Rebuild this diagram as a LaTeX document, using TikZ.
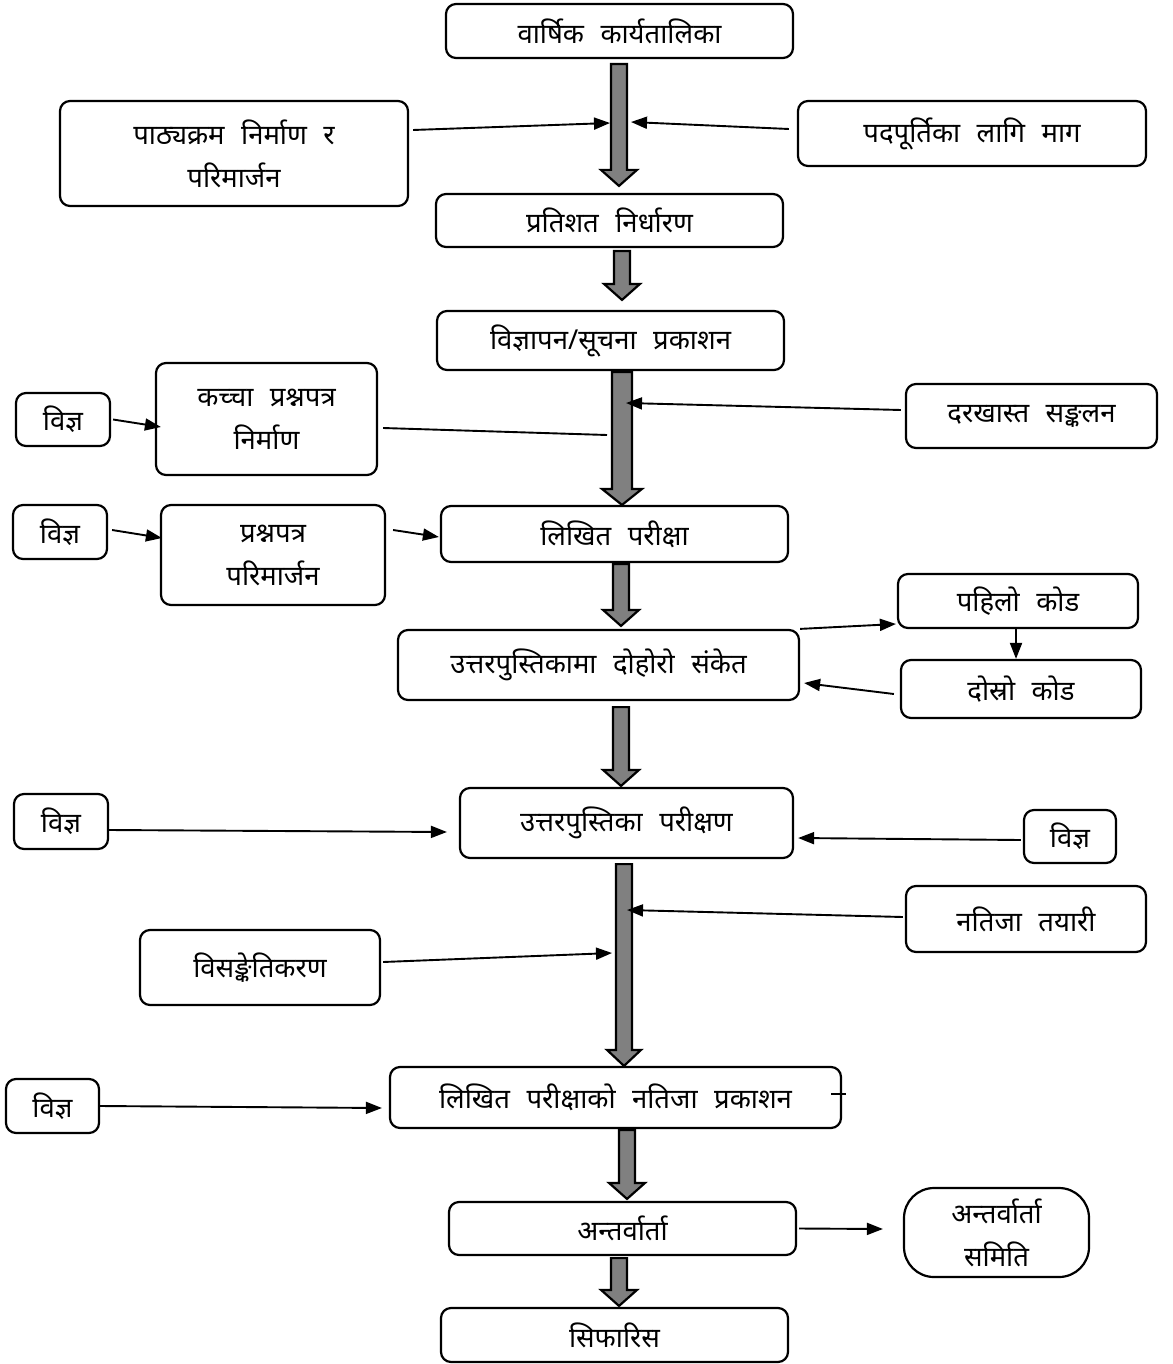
\documentclass[tikz,border=0pt]{standalone}
\usepackage{fontspec}
\newfontfamily\dev[Script=Devanagari,WordSpace=2.3]{Noto Sans}
\usetikzlibrary{arrows.meta,calc}
\definecolor{arrgray}{HTML}{808080}
\tikzset{
  box/.style={draw, line width=2.2pt, rounded corners=10pt, align=center, inner sep=0pt,
    font=\dev\fontsize{27.5}{43}\selectfont},
  thinarr/.style={line width=1.9pt, -{Triangle[length=16pt,width=12pt]}},
  thinline/.style={line width=1.9pt},
  blockarrow/.style={fill=arrgray, draw=black, line width=2.2pt, line join=miter},
}
% #1 from node, #2 to node, #3 x, #4 gap below source, #5 gap above target, #6 shaft half width, #7 head half width
\newcommand\blockarr[7]{%
  \filldraw[blockarrow] let \p1=(#1.south), \p2=(#2.north) in
    (#3-#6,\y1-#4) -- (#3+#6,\y1-#4) -- (#3+#6,\y2+#5+16) -- (#3+#7,\y2+#5+16)
    -- (#3,\y2+#5) -- (#3-#7,\y2+#5+16) -- (#3-#6,\y2+#5+16) -- cycle;}
\begin{document}
\begin{tikzpicture}[x=1pt,y=-1pt]
\useasboundingbox (0,0) rectangle (1172,1364);
% nodes
\node[box, minimum width=347pt, minimum height=54pt] (n1) at (619.5,31) {वार्षिक कार्यतालिका};
\node[box, minimum width=348pt, minimum height=105pt] (n2) at (234,153.5) {पाठ्यक्रम निर्माण र\\परिमार्जन};
\node[box, minimum width=348pt, minimum height=65pt] (n3) at (972,133.5) {पदपूर्तिका लागि माग};
\node[box, minimum width=347pt, minimum height=53pt] (n4) at (609.5,220.5) {प्रतिशत निर्धारण};
\node[box, minimum width=347pt, minimum height=59pt] (n5) at (610.5,340.5) {विज्ञापन/सूचना प्रकाशन};
\node[box, minimum width=221pt, minimum height=112pt] (n6) at (266.5,419) {कच्चा प्रश्नपत्र\\निर्माण};
\node[box, minimum width=94pt, minimum height=53pt] (n7) at (63,419.5) {विज्ञ};
\node[box, minimum width=251pt, minimum height=64pt] (n8) at (1031.5,416) {दरखास्त सङ्कलन};
\node[box, minimum width=94pt, minimum height=54pt] (n9) at (60,532) {विज्ञ};
\node[box, minimum width=224pt, minimum height=100pt] (n10) at (273,555) {प्रश्नपत्र\\परिमार्जन};
\node[box, minimum width=347pt, minimum height=56pt] (n11) at (614.5,534) {लिखित परीक्षा};
\node[box, minimum width=240pt, minimum height=54pt] (n12) at (1018,601) {पहिलो कोड};
\node[box, minimum width=401pt, minimum height=70pt] (n13) at (598.5,665) {उत्तरपुस्तिकामा दोहोरो संकेत};
\node[box, minimum width=240pt, minimum height=58pt] (n14) at (1021,689) {दोस्रो कोड};
\node[box, minimum width=94pt, minimum height=55pt] (n15) at (61,821.5) {विज्ञ};
\node[box, minimum width=333pt, minimum height=70pt] (n16) at (626.5,823) {उत्तरपुस्तिका परीक्षण};
\node[box, minimum width=92pt, minimum height=53pt] (n17) at (1070,836.5) {विज्ञ};
\node[box, minimum width=240pt, minimum height=66pt] (n18) at (1026,919) {नतिजा तयारी};
\node[box, minimum width=240pt, minimum height=75pt] (n19) at (260,967.5) {विसङ्केतिकरण};
\node[box, minimum width=93pt, minimum height=54pt] (n20) at (52.5,1106) {विज्ञ};
\node[box, minimum width=451pt, minimum height=61pt] (n21) at (615.5,1097.5) {लिखित परीक्षाको नतिजा प्रकाशन};
\node[box, minimum width=347pt, minimum height=53pt] (n22) at (622.5,1228.5) {अन्तर्वार्ता};
\node[box, rounded corners=30pt, minimum width=185pt, minimum height=89pt] (n23) at (996.5,1232.5) {अन्तर्वार्ता\\समिति};
\node[box, minimum width=347pt, minimum height=54pt] (n24) at (614.5,1335) {सिफारिस};
% block arrows
\blockarr{n1}{n4}{619}{5}{7}{8}{18}
\blockarr{n4}{n5}{622}{3}{10}{8}{18}
\blockarr{n5}{n11}{622}{1}{0}{10}{20}
\blockarr{n11}{n13}{621}{1}{3}{8}{18}
\blockarr{n13}{n16}{621}{6}{1}{8}{18}
\blockarr{n16}{n21}{624}{5}{0}{8}{17}
\blockarr{n21}{n22}{627}{1}{2}{8}{18}
\blockarr{n22}{n24}{619}{2}{1}{8}{18}
% points on the shafts
\coordinate (s1l) at (610,123);
\coordinate (s1r) at (631,122);
\coordinate (s3l) at (607,435);
\coordinate (s3r) at (626,403);
\coordinate (s6l) at (612,953);
\coordinate (s6r) at (627,910);
% thin connectors
\draw[thinarr] ([xshift=4pt,yshift=23.5pt]n2.east) -- (s1l);
\draw[thinarr] ([xshift=-8pt,yshift=4.5pt]n3.west) -- (s1r);
\draw[thinline] ([xshift=5pt,yshift=-9pt]n6.east) -- (s3l);
\draw[thinarr] ([xshift=-4pt,yshift=6pt]n8.west) -- (s3r);
\draw[thinarr] ([xshift=2pt]n7.east) -- ([xshift=6pt,yshift=-8pt]n6.west);
\draw[thinarr] ([xshift=4pt,yshift=2pt]n9.east) -- ([xshift=2pt,yshift=17pt]n10.west);
\draw[thinarr] ([xshift=7pt,yshift=25pt]n10.east) -- ([xshift=-1pt,yshift=-3pt]n11.west);
\draw[thinarr] (n13.north east) -- ([xshift=-1pt,yshift=-23pt]n12.west);
\draw[thinarr] ([xshift=-2pt]n12.south) -- ([xshift=-5pt]n14.north);
\draw[thinarr] ([xshift=-6pt,yshift=-5pt]n14.west) -- ([xshift=4pt,yshift=-18pt]n13.east);
\draw[thinarr] ([yshift=-8.5pt]n15.east) -- ([xshift=-12pt,yshift=-9pt]n16.west);
\draw[thinarr] ([xshift=-2pt,yshift=-3.5pt]n17.west) -- ([xshift=4pt,yshift=-15pt]n16.east);
\draw[thinarr] ([xshift=-2pt,yshift=2pt]n18.west) -- (s6r);
\draw[thinarr] ([xshift=2pt,yshift=5.5pt]n19.east) -- (s6l);
\draw[thinarr] (n20.east) -- ([xshift=-7pt,yshift=-10.5pt]n21.west);
\draw[thinline] ([xshift=-11pt,yshift=3.5pt]n21.east) -- ++(15,0);
\draw[thinarr] ([xshift=2pt]n22.east) -- ([xshift=-20pt,yshift=3.5pt]n23.west);
\end{tikzpicture}
\end{document}
